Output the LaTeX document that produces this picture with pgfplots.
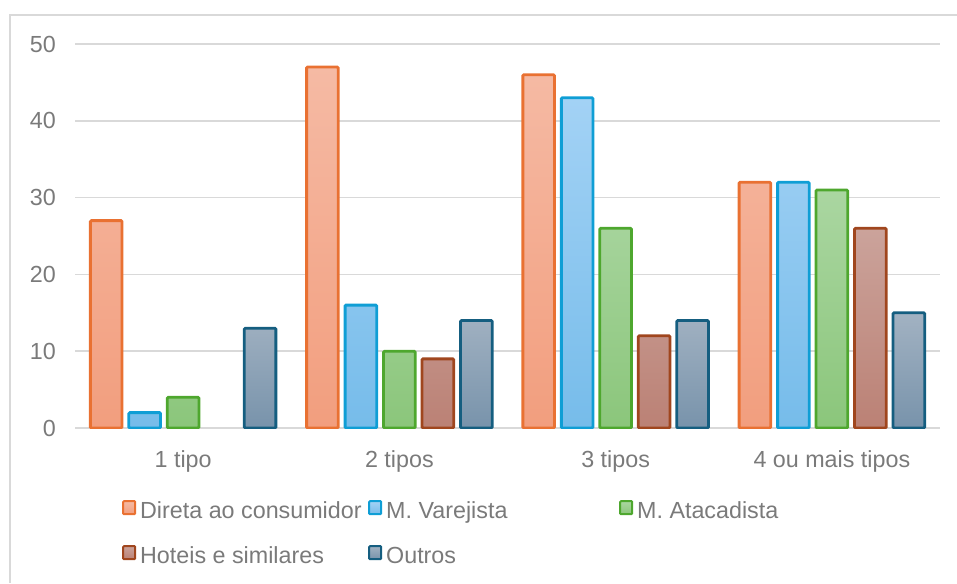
\documentclass[border=0pt]{standalone}
\usepackage{pgfplots}
\pgfplotsset{compat=1.18}
\usepackage{fontspec}
\setmainfont{Liberation Sans}
\definecolor{tc}{HTML}{7A7A7A}
\definecolor{gridc}{HTML}{D9D9D9}
\definecolor{oT}{HTML}{F5BAA4}\definecolor{oB}{HTML}{F29E7E}\definecolor{oE}{HTML}{E97132}
\definecolor{bT}{HTML}{A3D2F5}\definecolor{bB}{HTML}{76BCEA}\definecolor{bE}{HTML}{0F9ED5}
\definecolor{gT}{HTML}{AAD6A1}\definecolor{gB}{HTML}{8BC67B}\definecolor{gE}{HTML}{4EA72E}
\definecolor{rT}{HTML}{CBA39B}\definecolor{rB}{HTML}{BB8175}\definecolor{rE}{HTML}{A0461E}
\definecolor{dT}{HTML}{A2B2C2}\definecolor{dB}{HTML}{7893AB}\definecolor{dE}{HTML}{155E80}
\begin{document}
\begin{tikzpicture}
\useasboundingbox (0pt,0pt) rectangle (957pt,583pt);
\draw[gridc, line width=1.5pt] (10pt,0pt) -- (10pt,568pt) -- (957pt,568pt);
\begin{axis}[
  at={(75pt,155pt)}, anchor=south west,
  scale only axis, width=865pt, height=384pt,
  xmin=-0.5, xmax=3.5, ymin=0, ymax=50,
  ybar, bar width=0.146,
  xtick={0,1,2,3},
  xticklabels={1 tipo, 2 tipos, 3 tipos, 4 ou mais tipos},
  ytick={0,10,20,30,40,50},
  major tick length=0pt,
  ymajorgrids, grid style={gridc, line width=1.5pt},
  axis lines*=left,
  x axis line style={gridc, line width=2pt},
  y axis line style={draw=none},
  /pgf/number format/assume math mode=true,
  every tick label/.append style={font=\fontsize{23.3}{27}\selectfont, text=tc},
  yticklabel style={inner sep=0pt, xshift=-19pt},
  xticklabel style={inner sep=0pt, yshift=-22pt},
  legend columns=3,
  legend cell align=left,
  legend style={at={(axis description cs:0.0543,-0.1875)}, anchor=north west,
    draw=none, fill=none, inner sep=0pt, row sep=22pt,
    font=\fontsize{23.3}{27}\selectfont, text=tc,
    nodes={inner sep=0pt, text height=16pt, text depth=5pt}},
  legend image code/.code={\draw[#1, line width=2pt, rounded corners=0.8pt] (0pt,-1.5pt) rectangle (12pt,11.5pt);},
]
\addplot[bar shift=-0.356, draw=oE, line width=2.8pt, top color=oT, bottom color=oB, rounded corners=1pt]
  coordinates {(0,27) (1,47) (2,46) (3,32)};
\addlegendentry{\makebox[232pt][l]{\hspace{4pt}Direta ao consumidor}}
\addplot[bar shift=-0.178, draw=bE, line width=2.8pt, top color=bT, bottom color=bB, rounded corners=1pt]
  coordinates {(0,2) (1,16) (2,43) (3,32)};
\addlegendentry{\makebox[237pt][l]{\hspace{4pt}M. Varejista}}
\addplot[bar shift=0, draw=gE, line width=2.8pt, top color=gT, bottom color=gB, rounded corners=1pt]
  coordinates {(0,4) (1,10) (2,26) (3,31)};
\addlegendentry{\hspace{4pt}M. Atacadista}
\addplot[bar shift=0.178, draw=rE, line width=2.8pt, top color=rT, bottom color=rB, rounded corners=1pt]
  coordinates {(1,9) (2,12) (3,26)};
\addlegendentry{\makebox[232pt][l]{\hspace{4pt}Hoteis e similares}}
\addplot[bar shift=0.356, draw=dE, line width=2.8pt, top color=dT, bottom color=dB, rounded corners=1pt]
  coordinates {(0,13) (1,14) (2,14) (3,15)};
\addlegendentry{\hspace{4pt}Outros}
\end{axis}
\end{tikzpicture}
\end{document}
